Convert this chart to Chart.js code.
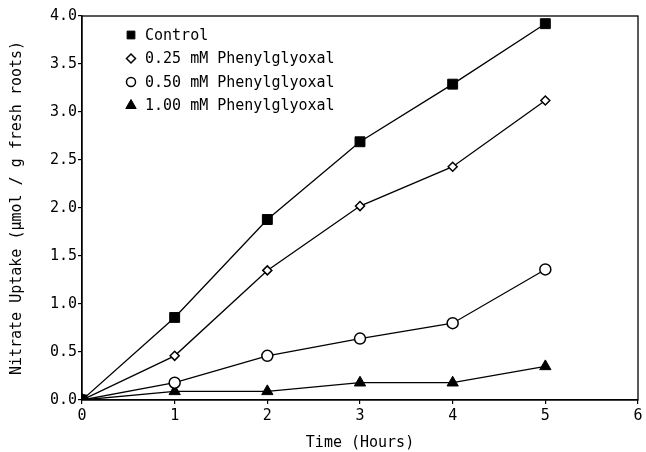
<!DOCTYPE html>
<html>
<head>
<meta charset="utf-8">
<script src="https://cdn.jsdelivr.net/npm/chart.js@4/dist/chart.umd.min.js"></script>
<style>
html,body{margin:0;padding:0;background:#fff;}
#wrap{width:646px;height:452px;position:relative;}
</style>
</head>
<body>
<div id="wrap"><canvas id="c" width="646" height="452"></canvas></div>
<script>
const hours = [0, 1, 2, 3, 4, 5];
const seriesLabels = ["Control", "0.25 mM Phenylglyoxal", "0.50 mM Phenylglyoxal", "1.00 mM Phenylglyoxal"];
const control = [0, 0.86, 1.88, 2.69, 3.29, 3.92];
const pg025 = [0, 0.46, 1.35, 2.02, 2.43, 3.12];
const pg050 = [0, 0.18, 0.46, 0.64, 0.80, 1.36];
const pg100 = [0, 0.09, 0.09, 0.18, 0.18, 0.35];
const xTicks = [0, 1, 2, 3, 4, 5, 6];
const yTicks = [0, 0.5, 1.0, 1.5, 2.0, 2.5, 3.0, 3.5, 4.0];

const FONT = "'DejaVu Sans Mono', monospace";
const styles = [
  {pointStyle: 'rect', radius: 7, fill: '#000', lw: 1},
  {pointStyle: 'rectRot', radius: 4.5, fill: '#fff', lw: 1.5},
  {pointStyle: 'circle', radius: 5.5, fill: '#fff', lw: 1.5},
  {pointStyle: 'triangle', radius: 6.5, fill: '#000', lw: 1}
];
const legendRadius = [5.5, 4.5, 4.5, 6];
const values = [control, pg025, pg050, pg100];

const datasets = values.map((vals, i) => ({
  label: seriesLabels[i],
  data: hours.map((h, j) => ({x: h, y: vals[j]})),
  borderColor: '#000',
  borderWidth: 1.3,
  pointStyle: styles[i].pointStyle,
  pointRadius: styles[i].radius,
  pointBackgroundColor: styles[i].fill,
  pointBorderColor: '#000',
  pointBorderWidth: styles[i].lw,
  tension: 0,
  fill: false
}));

const framePlugin = {
  id: 'frame',
  afterDraw(chart) {
    const {ctx, chartArea: a} = chart;
    ctx.save();
    ctx.strokeStyle = '#000';
    ctx.lineWidth = 1.3;
    ctx.strokeRect(a.left, a.top, a.right - a.left, a.bottom - a.top);
    ctx.font = "15px " + FONT;
    ctx.textBaseline = 'middle';
    chart.data.datasets.forEach((ds, i) => {
      const y = a.top + 19 + i * 23.5;
      const x = a.left + 49;
      ctx.lineWidth = styles[i].lw;
      ctx.fillStyle = styles[i].fill;
      ctx.strokeStyle = '#000';
      Chart.helpers.drawPoint(ctx, {pointStyle: styles[i].pointStyle, rotation: 0, radius: legendRadius[i], borderWidth: styles[i].lw}, x, y);
      ctx.fillStyle = '#000';
      ctx.fillText(ds.label, x + 14, y + 1);
    });
    ctx.restore();
  }
};

new Chart(document.getElementById('c'), {
  type: 'line',
  data: {datasets},
  options: {
    responsive: false,
    animation: false,
    layout: {padding: {top: 16, right: 6, left: 0, bottom: 0}},
    plugins: {legend: {display: false}, tooltip: {enabled: false}},
    scales: {
      x: {
        type: 'linear', min: 0, max: 6,
        afterBuildTicks: s => { s.ticks = xTicks.map(v => ({value: v})); },
        afterFit: s => { s.height = 52; },
        grid: {drawOnChartArea: false, drawTicks: true, tickLength: 4, color: '#000', lineWidth: 1.2},
        border: {display: true, color: '#000', width: 1.3},
        ticks: {color: '#000', font: {family: FONT, size: 15}, padding: 3},
        title: {display: true, text: 'Time (Hours)', color: '#000', font: {family: FONT, size: 15}, padding: {top: 2, bottom: 0}}
      },
      y: {
        type: 'linear', min: 0, max: 4,
        afterBuildTicks: s => { s.ticks = yTicks.map(v => ({value: v})); },
        afterFit: s => { s.width = 82; },
        grid: {drawOnChartArea: false, drawTicks: true, tickLength: 4, color: '#000', lineWidth: 1.2},
        border: {display: true, color: '#000', width: 1.3},
        ticks: {color: '#000', font: {family: FONT, size: 15}, padding: 1, callback: v => v.toFixed(1)},
        title: {display: true, text: 'Nitrate Uptake (µmol / g fresh roots)', color: '#000', font: {family: FONT, size: 15}, padding: {top: 8, bottom: 4}}
      }
    }
  },
  plugins: [framePlugin]
});
</script>
</body>
</html>
